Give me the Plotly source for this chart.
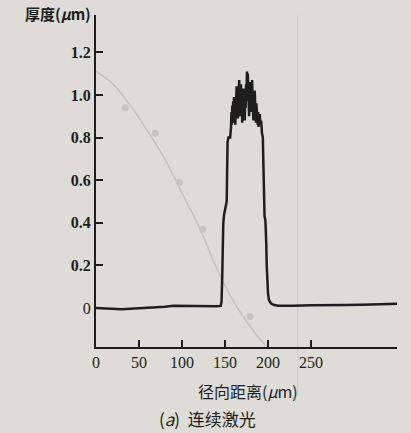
import plotly.graph_objects as go

# Main thickness profile (radial distance µm, thickness µm)
radial_um = [0, 10, 20, 30, 40, 50, 60, 70, 80, 90, 100, 110, 120, 130, 140, 145,
             146, 146.8, 147.4, 148, 149, 150, 151, 152, 152.5, 153, 154, 156, 157,
             157.5, 158, 158.5, 159, 159.5, 160, 160.5, 161, 161.5, 162, 162.5, 163, 163.5, 164,
             164.5, 165, 165.5, 166, 166.5, 167, 167.5, 168, 168.5, 169, 169.5, 170, 170.5, 171,
             171.5, 172, 172.5, 173, 173.5, 174, 174.5, 175, 175.5, 176, 176.5, 177, 177.5, 178,
             178.5, 179, 179.5, 180, 180.5, 181, 181.5, 182, 182.5, 183, 183.5, 184, 184.5, 185,
             185.5, 186, 186.5, 187, 187.5, 188, 188.5, 189, 189.5, 190, 190.5, 191, 192, 193,
             194, 194.5, 195, 195.5, 196, 197, 197.5, 198, 198.5, 199, 199.5, 200, 201, 202,
             204, 207, 212, 218, 230, 250, 270, 290, 310, 330, 350]
thickness_um = [0.0, -0.002, -0.004, -0.006, -0.004, -0.002, 0.0, 0.004, 0.006, 0.01, 0.009, 0.008, 0.008, 0.009, 0.008, 0.01,
                0.03, 0.15, 0.3, 0.4, 0.44, 0.46, 0.47, 0.5, 0.65, 0.78, 0.8, 0.8, 0.85,
                0.92, 0.86, 0.95, 0.88, 0.97, 0.87, 0.99, 0.9, 0.96, 0.86, 1.0, 0.91, 1.04, 0.93,
                0.98, 0.89, 1.02, 0.94, 1.07, 0.95, 1.0, 0.9, 1.05, 0.96, 1.01, 0.87, 0.99, 0.92,
                1.03, 0.95, 0.98, 0.88, 1.02, 0.94, 1.05, 0.97, 1.11, 1.0, 1.1, 0.96, 1.03, 0.9,
                1.0, 0.93, 1.06, 0.96, 1.04, 0.92, 1.07, 0.95, 1.01, 0.88, 0.99, 0.9, 1.02, 0.93,
                0.97, 0.87, 0.96, 0.89, 0.94, 0.86, 0.92, 0.85, 0.9, 0.88, 0.91, 0.86, 0.88, 0.82,
                0.8, 0.7, 0.55, 0.45, 0.43, 0.41, 0.38, 0.3, 0.2, 0.12, 0.09, 0.07, 0.04, 0.03,
                0.02, 0.014, 0.011, 0.01, 0.011, 0.013, 0.015, 0.014, 0.015, 0.017, 0.02]

# Faint bleed-through curve visible in the scan
gray_x = [0, 20, 40, 60, 80, 100, 120, 140, 160, 180, 198]
gray_y = [1.11, 1.05, 0.95, 0.83, 0.70, 0.54, 0.38, 0.19, 0.03, -0.09, -0.18]
gray_pts_x = [34, 69, 97, 124, 179]
gray_pts_y = [0.94, 0.82, 0.59, 0.37, -0.04]

x_ticks = [0, 50, 100, 150, 200, 250]
y_ticks = [0, 0.2, 0.4, 0.6, 0.8, 1.0, 1.2]
y_ticktext = ["0", "<b>0.2</b>", "<b>0.4</b>", "<b>0.6</b>", "<b>0.8</b>", "<b>1.0</b>", "<b>1.2</b>"]

ink = "#1e1e1e"
paper = "#dddcd6"
serif = "Liberation Serif, DejaVu Serif, serif"
cjk = "Noto Sans CJK SC, sans-serif"

fig = go.Figure()
fig.add_trace(go.Scatter(x=gray_x, y=gray_y, mode="lines", line=dict(color="#c3c2bd", width=1.5, shape="spline"),
                         hoverinfo="skip", showlegend=False))
fig.add_trace(go.Scatter(x=gray_pts_x, y=gray_pts_y, mode="markers", marker=dict(color="#c6c5c0", size=7),
                         hoverinfo="skip", showlegend=False))
fig.add_trace(go.Scatter(x=radial_um, y=thickness_um, mode="lines", line=dict(color=ink, width=2.5),
                         showlegend=False))

fig.update_layout(
    width=411, height=433,
    margin=dict(l=96, r=14, t=15, b=86),
    paper_bgcolor=paper, plot_bgcolor=paper,
    xaxis=dict(range=[0, 350], tickvals=x_ticks, ticks="inside", ticklen=7, tickwidth=1.5, tickcolor=ink,
               showline=True, linecolor=ink, linewidth=2, showgrid=False, zeroline=False,
               tickfont=dict(family=serif, size=16, color=ink)),
    yaxis=dict(range=[-0.183, 1.375], tickvals=y_ticks, ticktext=y_ticktext, ticks="inside", ticklen=7,
               tickwidth=1.5, tickcolor=ink, showline=True, linecolor=ink, linewidth=2, showgrid=False,
               zeroline=False, tickfont=dict(family=serif, size=16, color=ink)),
    shapes=[dict(type="line", xref="paper", yref="paper", x0=0.67, x1=0.67, y0=-0.15, y1=1.0,
                 line=dict(color="#cfcec9", width=1.2), layer="below")],
    annotations=[
        dict(text="<b>厚度(<i>μ</i>m)</b>", xref="paper", yref="paper", x=-0.01, y=1.0, xanchor="right",
             yanchor="middle", yshift=2, showarrow=False, font=dict(family=cjk, size=15, color=ink)),
        dict(text="径向距离(<i>μ</i>m)", xref="paper", yref="paper", x=0.505, y=0, yshift=-44, xanchor="center",
             yanchor="middle", showarrow=False, font=dict(family=cjk, size=16, color=ink)),
        dict(text="(<i>a</i>)  连续激光", xref="paper", yref="paper", x=0.37, y=0, yshift=-71, xanchor="center",
             yanchor="middle", showarrow=False, font=dict(family=cjk, size=17, color=ink)),
    ],
)

fig.write_html("out.html")
